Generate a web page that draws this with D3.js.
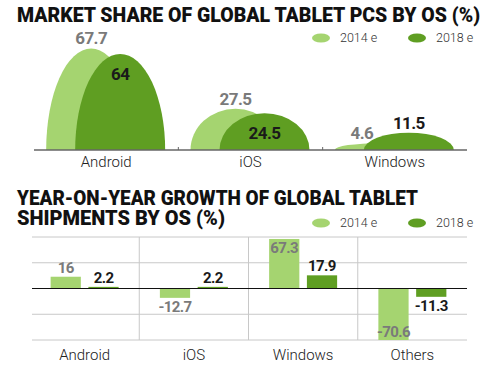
<!DOCTYPE html>
<html>
<head>
<meta charset="utf-8">
<script src="https://cdn.jsdelivr.net/npm/d3@7"></script>
<style>
  body { margin: 0; background: #fff; }
  svg { display: block; }
  .title { font-family: Roboto, "Open Sans", sans-serif; font-weight: 900; fill: #111; }
  .cat { font-family: Roboto, sans-serif; font-weight: 300; font-size: 15px; fill: #222; }
  .val { font-family: Roboto, sans-serif; font-weight: 700; letter-spacing: -0.6px; }
  .leg { font-family: Roboto, sans-serif; font-weight: 300; font-size: 12.5px; fill: #333; }
</style>
</head>
<body>
<div class="mainCont"></div>
<script>
var shareCats = ["Android", "iOS", "Windows"];
var share2014 = [67.7, 27.5, 4.6];
var share2018 = [64, 24.5, 11.5];

var growthCats = ["Android", "iOS", "Windows", "Others"];
var growth2014 = [16, -12.7, 67.3, -70.6];
var growth2018 = [2.2, 2.2, 17.9, -11.3];
var growthTicks = [-70, -35, 0, 35, 70];

var seriesNames = ["2014 e", "2018 e"];

var width = 494, height = 376;
var color = d3.scaleOrdinal().domain(seriesNames).range(["#a5d470", "#5f9e22"]);
var labelColor = d3.scaleOrdinal().domain(seriesNames).range(["#7a7a7a", "#1a1a1a"]);

var svg = d3.select(".mainCont").append("svg")
    .attr("width", width)
    .attr("height", height);

// titles
svg.append("text").attr("class", "title")
    .attr("x", 17).attr("y", 22)
    .attr("font-size", 20.5)
    .attr("textLength", 463).attr("lengthAdjust", "spacingAndGlyphs")
    .text("MARKET SHARE OF GLOBAL TABLET PCS BY OS (%)");
svg.append("text").attr("class", "title")
    .attr("x", 17).attr("y", 205)
    .attr("font-size", 20.5)
    .attr("textLength", 401).attr("lengthAdjust", "spacingAndGlyphs")
    .text("YEAR-ON-YEAR GROWTH OF GLOBAL TABLET");
svg.append("text").attr("class", "title")
    .attr("x", 17).attr("y", 225)
    .attr("font-size", 20.5)
    .attr("textLength", 208).attr("lengthAdjust", "spacingAndGlyphs")
    .text("SHIPMENTS BY OS (%)");

// legends
function legend(yy) {
    var lg = svg.append("g").attr("transform", "translate(0," + yy + ")");
    var item = lg.selectAll("g").data(seriesNames).enter().append("g")
        .attr("transform", function(d, i) { return "translate(" + (321 + i * 96) + ",0)"; });
    item.append("ellipse").attr("rx", 9).attr("ry", 4.5)
        .style("fill", function(d) { return color(d); });
    item.append("text").attr("class", "leg")
        .attr("x", 19).attr("dy", "0.35em")
        .text(function(d) { return d; });
}
legend(38);
legend(223);

// ---------- top chart: domes ----------
var base = 150;
var x = d3.scaleBand().domain(shareCats).range([34, 467]);
var xs = d3.scalePoint().domain(seriesNames).range([-15, 14]);
var y = d3.scaleLinear().domain([0, 70]).range([base, base - 105]);
var rx = 45;

var shareRows = shareCats.map(function(c, i) {
    return { cat: c, vals: [share2014[i], share2018[i]] };
});

var g = svg.selectAll(".dome").data(shareRows).enter().append("g").attr("class", "dome");

seriesNames.forEach(function(s, si) {
    g.append("path")
        .attr("d", function(d) {
            var cx = x(d.cat) + x.bandwidth() / 2 + xs(s);
            var h = base - y(d.vals[si]);
            return "M" + (cx - rx) + "," + base + " A" + rx + "," + h + " 0 0 1 " + (cx + rx) + "," + base + " Z";
        })
        .style("fill", color(s));
});

seriesNames.forEach(function(s, si) {
    g.append("text").attr("class", "val")
        .attr("font-size", 17)
        .attr("text-anchor", "middle")
        .attr("x", function(d) {
            var cx = x(d.cat) + x.bandwidth() / 2 + xs(s);
            if (si === 0 && d.vals[1] > d.vals[0]) cx -= 18;
            return cx;
        })
        .attr("y", function(d) {
            var top = y(d.vals[si]);
            if (si === 1 && base - top > 30) return top + 26;
            return top - 4;
        })
        .style("fill", labelColor(s))
        .text(function(d) { return d.vals[si]; });
});

// baseline + separators
svg.append("line").attr("x1", 34).attr("x2", 467).attr("y1", base).attr("y2", base)
    .style("stroke", "#666").style("stroke-width", 1.5);
svg.selectAll(".sep").data(shareCats.slice(1)).enter().append("line")
    .attr("x1", function(d) { return x(d); }).attr("x2", function(d) { return x(d); })
    .attr("y1", base - 3).attr("y2", base)
    .style("stroke", "#666");

svg.selectAll(".catTop").data(shareCats).enter().append("text").attr("class", "cat")
    .attr("text-anchor", "middle")
    .attr("x", function(d) { return x(d) + x.bandwidth() / 2; })
    .attr("y", 167)
    .text(function(d) { return d; });

// ---------- bottom chart: bars ----------
var x2 = d3.scaleBand().domain(growthCats).range([30, 467]);
var xb = d3.scaleBand().domain(seriesNames).range([-34, 34]).paddingInner(0.2);
var y2 = d3.scaleLinear().domain([-70, 70]).range([340, 237]).clamp(true);

svg.selectAll(".grid").data(growthTicks.filter(function(t) { return t !== 0; })).enter().append("line")
    .attr("x1", 32).attr("x2", 467)
    .attr("y1", function(d) { return y2(d); }).attr("y2", function(d) { return y2(d); })
    .style("stroke", "#c8c8c8");
svg.selectAll(".vsep").data(growthCats.slice(1)).enter().append("line")
    .attr("x1", function(d) { return x2(d); }).attr("x2", function(d) { return x2(d); })
    .attr("y1", y2(70)).attr("y2", y2(-70))
    .style("stroke", "#c8c8c8");

var growthRows = growthCats.map(function(c, i) {
    return { cat: c, vals: [growth2014[i], growth2018[i]] };
});

var gb = svg.selectAll(".bars").data(growthRows).enter().append("g")
    .attr("transform", function(d) { return "translate(" + (x2(d.cat) + x2.bandwidth() / 2) + ",0)"; });

seriesNames.forEach(function(s, si) {
    gb.append("rect")
        .attr("x", xb(s))
        .attr("width", xb.bandwidth())
        .attr("y", function(d) { return Math.min(y2(d.vals[si]), y2(0)); })
        .attr("height", function(d) { return Math.abs(y2(d.vals[si]) - y2(0)); })
        .style("fill", color(s));

    gb.append("text").attr("class", "val")
        .attr("font-size", 15)
        .attr("text-anchor", "middle")
        .attr("x", xb(s) + xb.bandwidth() / 2)
        .attr("y", function(d) {
            var v = d.vals[si];
            var inside = Math.abs(v) > 50;
            if (v >= 0) return inside ? y2(v) + 14 : y2(v) - 4;
            return inside ? y2(v) - 3 : y2(v) + 14;
        })
        .style("fill", labelColor(s))
        .text(function(d) { return d.vals[si]; });
});

svg.append("line").attr("x1", 32).attr("x2", 467)
    .attr("y1", y2(0)).attr("y2", y2(0))
    .style("stroke", "#111").style("stroke-width", 1.2);

svg.selectAll(".catBot").data(growthCats).enter().append("text").attr("class", "cat")
    .attr("text-anchor", "middle")
    .attr("x", function(d) { return x2(d) + x2.bandwidth() / 2; })
    .attr("y", 360)
    .text(function(d) { return d; });
</script>
</body>
</html>
